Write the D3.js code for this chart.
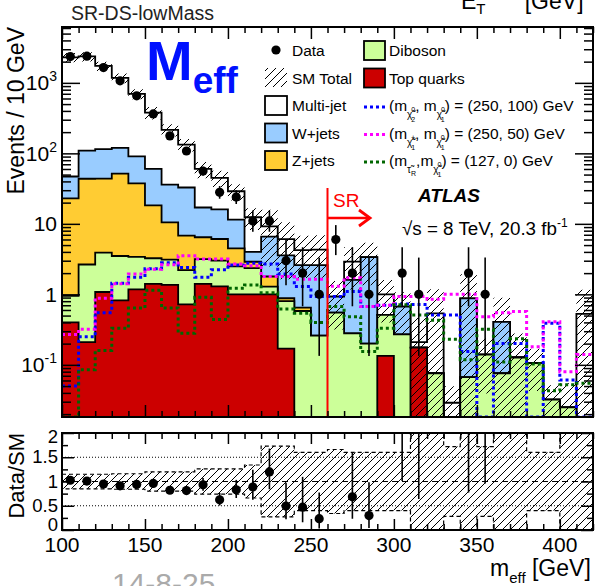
<!DOCTYPE html>
<html>
<head>
<meta charset="utf-8">
<script src="https://cdn.jsdelivr.net/npm/d3@7"></script>
<style>
body { margin: 0; background: #fff; }
svg { display: block; font-family: "Liberation Sans", Arial, Helvetica, sans-serif; }
</style>
</head>
<body>
<script>
var width = 597,
    height = 586;

// m_eff bins, 10 GeV wide
var binLow = [100,110,120,130,140,150,160,170,180,190,200,210,220,230,240,250,
              260,270,280,290,300,310,320,330,340,350,360,370,380,390,400,410];
var binWidth = 10;

// observed events per bin
var dataCounts = [2360,2390,1650,1070,655,363,177,108,56,28,24,11,11,3,2,1,
                  6,2,1,0,2,1,0,0,2,1,0,0,0,0,0,0];

// SM backgrounds, stacked in this order (bottom first)
var topQuarks = [0.40,0.21,1.08,0.82,1.18,1.41,1.36,0.72,1.41,1.30,1.00,1.00,1.00,0.17,0,0,
                 0,0,0,0.134,0,0.176,0,0,0,0,0,0,0,0,0,0];
var diboson = [0.55,2.44,2.82,2.68,2.22,1.84,1.74,1.48,1.74,1.70,1.50,1.35,0.29,0.63,0.58,0.26,
               0.55,0.28,0.20,0.376,0.27,0,0.076,0,0.067,0.14,0.076,0.127,0.106,0.032,0.025,0];
var zJets = [22,41,40,48,34,15,7.4,4.6,3.3,3.1,2.0,0.55,0.5,0.08,0.07,0,
             0,0,0,0,0,0,0,0,0,0,0,0,0,0,0,0];
var wJets = [24,66,71,68,53,42,25.5,26,10.6,9.9,7.0,1.1,4.8,2.7,1.95,2.34,
             0.38,1.32,3.17,0,0.40,0,0,0,0.81,0,0.33,0,0,0,0,0];
var multiJet = [2253,2260,1625,1055,607,318,180,100,43,29,17.5,8.4,2.6,2.5,1.65,1.7,
                0,1.32,0,0.49,0,0.034,0.46,0.029,0,0,0,0,0,0,0,0.53];

// relative uncertainty on the SM total
var smRelErr = [0.15,0.15,0.15,0.16,0.16,0.2,0.2,0.2,0.26,0.26,0.26,0.34,0.73,0.73,0.6,0.6,
                0.66,0.6,0.6,0.6,0.6,1.2,1.2,0.72,1.2,0.72,1.2,1.2,0.6,0.6,1.2,1.2];

// signal benchmarks
var sigBlue = [0.05,0.25,0.55,1.44,1.75,2.3,2.8,2.4,1.75,2.23,2.6,2.77,2.7,1.95,1.29,0.93,
               0.93,1.1,0.67,0.7,0.73,0.72,0.51,0.51,0.154,0.005,0.2,0.2,0.005,0.39,0.061,0.005];
var sigMagenta = [0.27,0.32,0.88,1.41,1.95,2.27,2.62,3.52,3.16,3.16,2.7,2.55,1.79,1.79,1.64,1.64,
                  1.3,1.72,0.67,0.7,0.93,0.93,0.85,1.0,1.0,0.48,0.55,0.57,0.18,0.41,0.08,0.14];
var sigGreen = [0.012,0.085,0.16,0.33,0.64,1.14,0.64,0.28,0.91,0.44,1.22,1.36,1.05,0.62,0.54,0.4,
                0.67,0.48,0.154,0.33,0.71,0.51,0.43,0.23,0.118,0.32,0.11,0.235,0.103,0.043,0.052,0.055];

var xTickLabels = [100,150,200,250,300,350,400];
var yDecades = [0.1,1,10,100,1000];
var ratioTicks = [0,0.5,1,1.5,2];
var ratioTickLabels = ["0","0.5","1","1.5","2"];

var colors = {multi: "#ffffff", wjets: "#99ccff", zjets: "#ffcc33", diboson: "#ccff99", top: "#cc0000"};

var svg = d3.select("body").append("svg")
    .attr("width", width)
    .attr("height", height);

var defs = svg.append("defs");
var hatch = defs.append("pattern")
    .attr("id", "hatch")
    .attr("patternUnits", "userSpaceOnUse")
    .attr("width", 8).attr("height", 8);
hatch.append("path")
    .attr("d", "M-2,2 L2,-2 M0,8 L8,0 M6,10 L10,6")
    .attr("stroke", "#000").attr("stroke-width", 1);

defs.append("clipPath").attr("id", "clipMain").append("rect")
    .attr("x", 62).attr("y", 27).attr("width", 531).attr("height", 390);
defs.append("clipPath").attr("id", "clipRatio").append("rect")
    .attr("x", 62).attr("y", 433).attr("width", 531).attr("height", 97);

var x = d3.scaleLinear().domain([100, 420]).range([62, 593]);
var y = d3.scaleLog().domain([0.0182, 6200]).range([417, 27]).clamp(true);
var yr = d3.scaleLinear().domain([0, 2]).range([530, 433]);

function yv(v) { return y(Math.max(v, 1e-4)); }

// cumulative stack
var comps = [topQuarks, diboson, zJets, wJets, multiJet];
var cum = [];
comps.forEach(function(c, k) {
    cum.push(c.map(function(v, i) { return v + (k ? cum[k - 1][i] : 0); }));
});
var total = cum[4];

function stepPoints(vals, fy) {
    var pts = [];
    vals.forEach(function(v, i) {
        pts.push([x(binLow[i]), fy(v)]);
        pts.push([x(binLow[i] + binWidth), fy(v)]);
    });
    return pts;
}

var main = svg.append("g").attr("clip-path", "url(#clipMain)");

var layers = [
    {vals: cum[4], color: colors.multi},
    {vals: cum[3], color: colors.wjets},
    {vals: cum[2], color: colors.zjets},
    {vals: cum[1], color: colors.diboson},
    {vals: cum[0], color: colors.top}
];
layers.forEach(function(l) {
    var pts = [[x(100), 425]].concat(stepPoints(l.vals, yv), [[x(420), 425]]);
    main.append("path")
        .attr("d", d3.line()(pts) + "Z")
        .attr("fill", l.color)
        .attr("stroke", "#000")
        .attr("stroke-width", 1.8);
});

// SM uncertainty band
var upPts = stepPoints(total.map(function(t, i) { return t * (1 + smRelErr[i]); }), yv);
var dnPts = stepPoints(total.map(function(t, i) { return t * (1 - smRelErr[i]); }), yv).reverse();
main.append("path")
    .attr("d", d3.line()(upPts.concat(dnPts)) + "Z")
    .attr("fill", "url(#hatch)");

// signal lines
[[sigBlue, "#0000ff"], [sigMagenta, "#ff00ff"], [sigGreen, "#006600"]].forEach(function(s) {
    main.append("path")
        .attr("d", d3.line()(stepPoints(s[0], yv)))
        .attr("fill", "none")
        .attr("stroke", s[1])
        .attr("stroke-width", 3)
        .attr("stroke-dasharray", "3,3");
});

// Poisson (Gehrels) error bars on data
function errLo(n) { return n - Math.sqrt(n - 0.25); }
function errHi(n) { return n + Math.sqrt(n + 0.75) + 1; }

var dataPts = [];
dataCounts.forEach(function(n, i) {
    if (n > 0) dataPts.push({c: binLow[i] + binWidth / 2, n: n, t: total[i]});
});

main.selectAll("line.err").data(dataPts).enter().append("line")
    .attr("x1", function(d) { return x(d.c); }).attr("x2", function(d) { return x(d.c); })
    .attr("y1", function(d) { return yv(errLo(d.n)); })
    .attr("y2", function(d) { return yv(errHi(d.n)); })
    .attr("stroke", "#000").attr("stroke-width", 1.6);
main.selectAll("circle.dat").data(dataPts).enter().append("circle")
    .attr("cx", function(d) { return x(d.c); })
    .attr("cy", function(d) { return yv(d.n); })
    .attr("r", 4.6).attr("fill", "#000");

// SR marker
svg.append("line").attr("x1", x(260)).attr("x2", x(260)).attr("y1", 188).attr("y2", 417)
    .attr("stroke", "#ff0000").attr("stroke-width", 2);
svg.append("line").attr("x1", x(260)).attr("x2", 369).attr("y1", 218).attr("y2", 218)
    .attr("stroke", "#ff0000").attr("stroke-width", 2.5);
svg.append("path").attr("d", "M359,210 L370,218 L359,226")
    .attr("fill", "none").attr("stroke", "#ff0000").attr("stroke-width", 2.8);
svg.append("text").attr("x", 333).attr("y", 207).attr("font-size", 19)
    .attr("fill", "#ff0000").text("SR");

// frames and ticks
function frame(y0, y1) {
    svg.append("rect").attr("x", 62).attr("y", y0).attr("width", 531).attr("height", y1 - y0)
        .attr("fill", "none").attr("stroke", "#000").attr("stroke-width", 2);
}
function ticks(axis, tx, ty) {
    svg.append("g").attr("transform", "translate(" + tx + "," + ty + ")")
        .call(axis.tickFormat(""))
        .call(function(g) { g.select(".domain").remove(); })
        .call(function(g) { g.selectAll("line").attr("stroke-width", 1.5); });
}

var xMinor = binLow.concat([420]).filter(function(v) { return v % 50 !== 0; });
var yMinor = [];
[-2, -1, 0, 1, 2, 3].forEach(function(d) {
    for (var k = 2; k <= 9; k++) {
        var v = k * Math.pow(10, d);
        if (v > 0.0182 && v < 6200) yMinor.push(v);
    }
});
var ratioMinor = [0.25, 0.75, 1.25, 1.75];

// main panel
ticks(d3.axisBottom(x).tickValues(xTickLabels).tickSize(-12), 0, 417);
ticks(d3.axisBottom(x).tickValues(xMinor).tickSize(-6), 0, 417);
ticks(d3.axisTop(x).tickValues(xTickLabels).tickSize(-12), 0, 27);
ticks(d3.axisTop(x).tickValues(xMinor).tickSize(-6), 0, 27);
ticks(d3.axisLeft(y).tickValues(yDecades).tickSize(-18), 62, 0);
ticks(d3.axisLeft(y).tickValues(yMinor).tickSize(-9), 62, 0);
ticks(d3.axisRight(y).tickValues(yDecades).tickSize(-18), 593, 0);
ticks(d3.axisRight(y).tickValues(yMinor).tickSize(-9), 593, 0);
frame(27, 417);

// rich text helper: parts with baseline offset and size
function richText(g, tx, ty, parts, size, anchor) {
    var t = g.append("text").attr("x", tx).attr("y", ty).attr("font-size", size)
        .attr("text-anchor", anchor || "start");
    var cur = 0;
    parts.forEach(function(p) {
        var off = p.off || 0;
        var ts = t.append("tspan").attr("dy", off - cur).attr("font-size", p.size || size).text(p.t);
        if (p.dx) ts.attr("dx", p.dx);
        cur = off;
    });
    return t;
}

var yLabelParts = [
    [{t: "10"}, {t: "-1", size: 14, off: -9}],
    [{t: "1"}],
    [{t: "10"}],
    [{t: "10"}, {t: "2", size: 14, off: -9}],
    [{t: "10"}, {t: "3", size: 14, off: -9}]
];
yDecades.forEach(function(v, i) {
    richText(svg, 57, y(v) + 7.5, yLabelParts[i], 21, "end");
});

// ratio panel
var ratioG = svg.append("g").attr("clip-path", "url(#clipRatio)");
var rUp = stepPoints(smRelErr.map(function(e) { return Math.min(1 + e, 2.3); }), yr);
var rDn = stepPoints(smRelErr.map(function(e) { return Math.max(1 - e, -0.05); }), yr).reverse();
ratioG.append("path")
    .attr("d", d3.line()(rUp.concat(rDn)) + "Z")
    .attr("fill", "url(#hatch)")
    .attr("stroke", "#000").attr("stroke-width", 1.2).attr("stroke-dasharray", "4,3");

ratioG.append("line").attr("x1", 62).attr("x2", 593).attr("y1", yr(1)).attr("y2", yr(1))
    .attr("stroke", "#000").attr("stroke-width", 1.2).attr("stroke-dasharray", "6,4");
[0.5, 1.5].forEach(function(v) {
    ratioG.append("line").attr("x1", 62).attr("x2", 593).attr("y1", yr(v)).attr("y2", yr(v))
        .attr("stroke", "#000").attr("stroke-width", 1).attr("stroke-dasharray", "1,2");
});

ratioG.selectAll("line.rerr").data(dataPts).enter().append("line")
    .attr("x1", function(d) { return x(d.c); }).attr("x2", function(d) { return x(d.c); })
    .attr("y1", function(d) { return yr(errLo(d.n) / d.t); })
    .attr("y2", function(d) { return yr(errHi(d.n) / d.t); })
    .attr("stroke", "#000").attr("stroke-width", 1.6);
ratioG.selectAll("circle.rdat").data(dataPts).enter().append("circle")
    .attr("cx", function(d) { return x(d.c); })
    .attr("cy", function(d) { return yr(d.n / d.t); })
    .attr("r", 4.6).attr("fill", "#000");

ticks(d3.axisBottom(x).tickValues(xTickLabels).tickSize(-11), 0, 530);
ticks(d3.axisBottom(x).tickValues(xMinor).tickSize(-6), 0, 530);
ticks(d3.axisTop(x).tickValues(xTickLabels).tickSize(-11), 0, 433);
ticks(d3.axisTop(x).tickValues(xMinor).tickSize(-6), 0, 433);
ticks(d3.axisLeft(yr).tickValues(ratioTicks).tickSize(-12), 62, 0);
ticks(d3.axisLeft(yr).tickValues(ratioMinor).tickSize(-6), 62, 0);
ticks(d3.axisRight(yr).tickValues(ratioTicks).tickSize(-12), 593, 0);
ticks(d3.axisRight(yr).tickValues(ratioMinor).tickSize(-6), 593, 0);
frame(433, 530);

// end labels are nudged inside the panel, as ROOT does
var ratioLabelShift = [1, 6, 6, 6, 10];
ratioTicks.forEach(function(v, i) {
    svg.append("text").attr("x", 58).attr("y", yr(v) + ratioLabelShift[i]).attr("font-size", 18.5)
        .attr("text-anchor", "end").text(ratioTickLabels[i]);
});
xTickLabels.forEach(function(v) {
    svg.append("text").attr("x", x(v)).attr("y", 552).attr("font-size", 21)
        .attr("text-anchor", "middle").text(v);
});

// axis titles
svg.append("text").attr("transform", "translate(24,27) rotate(-90)")
    .attr("text-anchor", "end").attr("font-size", 23).text("Events / 10 GeV");
svg.append("text").attr("transform", "translate(24,433) rotate(-90)")
    .attr("text-anchor", "end").attr("font-size", 22).text("Data/SM");
richText(svg, 490, 576, [{t: "m"}, {t: "eff", size: 15, off: 7}, {t: " [GeV]", off: 0}], 23);

// text at the top, cut by the page edge
svg.append("text").attr("x", 71).attr("y", 20).attr("font-size", 19.5).attr("fill", "#222")
    .text("SR-DS-lowMass");
richText(svg, 461, 9, [{t: "E"}, {t: "T", size: 15, off: 5}, {t: "miss", size: 15, off: -14, dx: -8},
    {t: " [GeV]", off: 0, dx: 10}], 23);
svg.append("text").attr("x", 112).attr("y", 594).attr("font-size", 30).attr("fill", "#aaa")
    .text("14-8-25");

// M_eff label
richText(svg, 146, 80, [{t: "M"}, {t: "eff", size: 37, off: 13}], 56)
    .attr("font-weight", "bold").attr("fill", "#0011ff");

// ATLAS label
svg.append("text").attr("x", 418).attr("y", 202).attr("font-size", 19)
    .attr("font-weight", "bold").attr("font-style", "italic").text("ATLAS");
richText(svg, 402, 235, [{t: "\u221As = 8 TeV, 20.3 fb"}, {t: "-1", size: 12, off: -8}], 18.8);

// legend
var leg = svg.append("g").attr("font-size", 15.5);
var rowY = [56, 83.5, 111, 138.5, 166];

leg.append("circle").attr("cx", 276).attr("cy", 50).attr("r", 4.6).attr("fill", "#000");
leg.append("rect").attr("x", 265).attr("y", 68).attr("width", 22).attr("height", 19)
    .attr("fill", "url(#hatch)");
[["Multi-jet", colors.multi], ["W+jets", colors.wjets], ["Z+jets", colors.zjets]].forEach(function(e, i) {
    leg.append("rect").attr("x", 265).attr("y", rowY[i + 2] - 15).attr("width", 22).attr("height", 19)
        .attr("fill", e[1]).attr("stroke", "#000").attr("stroke-width", 1.8);
});
["Data", "SM Total", "Multi-jet", "W+jets", "Z+jets"].forEach(function(t, i) {
    leg.append("text").attr("x", 292).attr("y", rowY[i]).text(t);
});

[["Diboson", colors.diboson], ["Top quarks", colors.top]].forEach(function(e, i) {
    leg.append("rect").attr("x", 364).attr("y", rowY[i] - 15).attr("width", 21).attr("height", 19)
        .attr("fill", e[1]).attr("stroke", "#000").attr("stroke-width", 1.8);
    leg.append("text").attr("x", 389).attr("y", rowY[i]).text(e[0]);
});

var chi = "\u03C7\u0303";
var sigLabels = [
    [{t: "(m"}, {t: chi, size: 10, off: 7}, {t: "0", size: 7, off: 1, dx: -1}, {t: "2", size: 7, off: 11, dx: -4},
     {t: ", m", off: 0}, {t: chi, size: 10, off: 7}, {t: "0", size: 7, off: 1, dx: -1}, {t: "1", size: 7, off: 11, dx: -4},
     {t: ") = (250, 100) GeV", off: 0}],
    [{t: "(m"}, {t: chi, size: 10, off: 7}, {t: "\u00B1", size: 7, off: 1, dx: -1}, {t: "1", size: 7, off: 11, dx: -4},
     {t: ", m", off: 0}, {t: chi, size: 10, off: 7}, {t: "0", size: 7, off: 1, dx: -1}, {t: "1", size: 7, off: 11, dx: -4},
     {t: ") = (250, 50) GeV", off: 0}],
    [{t: "(m"}, {t: "\u03C4\u0303", size: 10, off: 7}, {t: "R", size: 7, off: 10}, {t: ",m", off: 0},
     {t: chi, size: 10, off: 7}, {t: "0", size: 7, off: 1, dx: -1}, {t: "1", size: 7, off: 11, dx: -4},
     {t: ") = (127, 0) GeV", off: 0}]
];
[["#0000ff", 2], ["#ff00ff", 3], ["#006600", 4]].forEach(function(s, i) {
    leg.append("line").attr("x1", 364).attr("x2", 386)
        .attr("y1", rowY[s[1]] - 4).attr("y2", rowY[s[1]] - 4)
        .attr("stroke", s[0]).attr("stroke-width", 3).attr("stroke-dasharray", "3,3");
    richText(leg, 389, rowY[s[1]], sigLabels[i], 15.5);
});
</script>
</body>
</html>
